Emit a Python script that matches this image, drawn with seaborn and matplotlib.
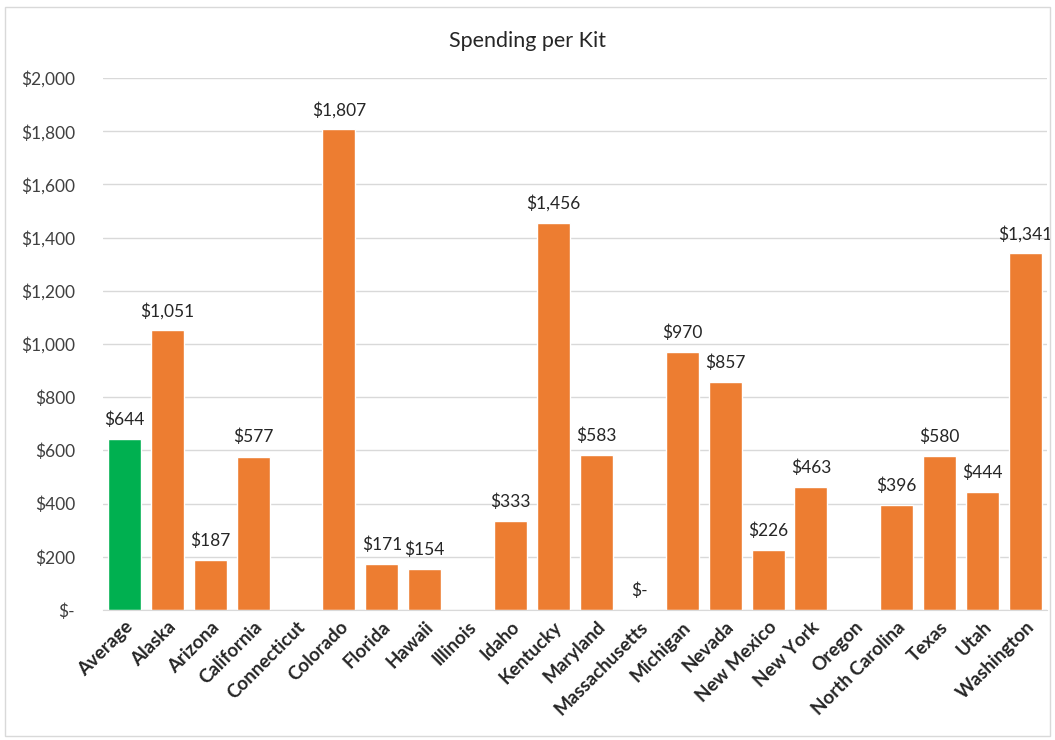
import numpy as np
import pandas as pd
import matplotlib
matplotlib.use("Agg")
import matplotlib.pyplot as plt
import seaborn as sns
from matplotlib.patches import Rectangle

# données
states = ["Average", "Alaska", "Arizona", "California", "Connecticut", "Colorado",
          "Florida", "Hawaii", "Illinois", "Idaho", "Kentucky", "Maryland",
          "Massachusetts", "Michigan", "Nevada", "New Mexico", "New York", "Oregon",
          "North Carolina", "Texas", "Utah", "Washington"]
spending = [644, 1051, 187, 577, np.nan, 1807, 171, 154, np.nan, 333, 1456, 583,
            0, 970, 857, 226, 463, np.nan, 396, 580, 444, 1341]
groups = ["Average"] + ["State"] * (len(states) - 1)
yticks = [0, 200, 400, 600, 800, 1000, 1200, 1400, 1600, 1800, 2000]

df = pd.DataFrame({"state": states, "spending": spending, "group": groups})

sns.set_style("white")
plt.rcParams["font.family"] = ["Lato", "DejaVu Sans"]

fig = plt.figure(figsize=(10.55, 7.4), dpi=100)
ax = fig.add_axes([0.0976, 0.1757, 0.8948, 0.7189])

sns.barplot(data=df, x="state", y="spending", hue="group",
            palette={"Average": "#00B050", "State": "#ED7D31"},
            saturation=1, dodge=False, width=0.77, legend=False, ax=ax)

def money(v):
    return "$-" if v == 0 else f"${v:,.0f}"

for i, v in enumerate(spending):
    if np.isnan(v):
        continue
    ax.annotate(money(v), (i, v), xytext=(0, 8), textcoords="offset points",
                ha="center", va="bottom", fontsize=12.5, color="#262626")

ax.set_ylim(0, 2000)
ax.set_xlim(-0.5, len(states) - 0.5)
ax.set_yticks(yticks)
ax.set_yticklabels([money(t) for t in yticks], fontsize=12.5, color="#404040")
ax.yaxis.grid(True, color="#D9D9D9", linewidth=1)
ax.set_axisbelow(True)
ax.tick_params(axis="y", length=0, pad=20)
ax.tick_params(axis="x", length=0, pad=6)
plt.setp(ax.get_xticklabels(), rotation=45, ha="right", rotation_mode="anchor",
         fontsize=13.5, fontweight="bold", color="#262626")
ax.set_xlabel("")
ax.set_ylabel("")
for side in ["top", "right", "left"]:
    ax.spines[side].set_visible(False)
ax.spines["bottom"].set_color("#D9D9D9")

fig.text(0.5, 0.945, "Spending per Kit", ha="center", va="center",
         fontsize=15.5, color="#262626")
fig.patches.append(Rectangle((0.005, 0.006), 0.99, 0.984, transform=fig.transFigure,
                             fill=False, edgecolor="#D9D9D9", linewidth=1))

fig.savefig("out.png", dpi=100)
